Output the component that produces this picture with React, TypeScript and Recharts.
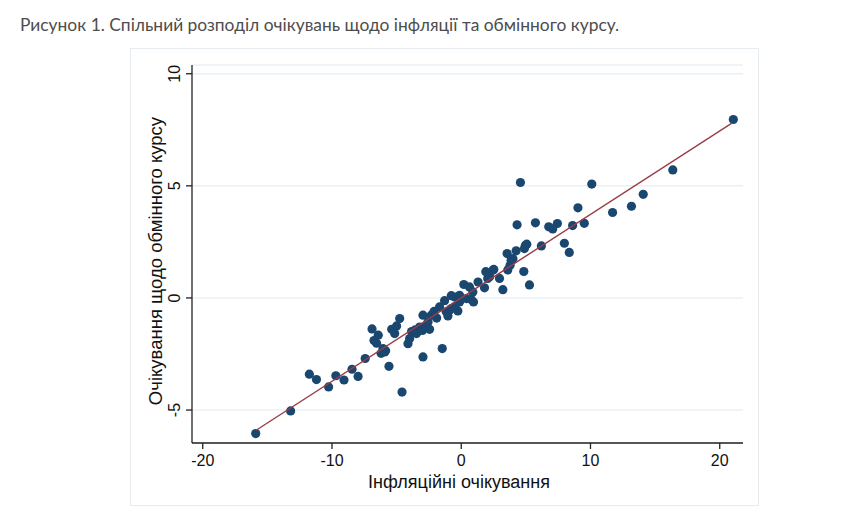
import { ScatterChart, Scatter, XAxis, YAxis, CartesianGrid } from "recharts";

// inflation expectations (x) and exchange-rate expectations (y)
const inflationExp = [
  -15.9, -13.2, -11.75, -11.2, -10.26, -9.7, -9.07, -8.45, -7.98, -7.43,
  -6.9, -6.75, -6.55, -6.42, -6.2, -6.05, -5.92, -5.85, -5.59, -5.38,
  -5.15, -5.0, -4.76, -4.58, -4.12, -3.99, -3.84, -3.55, -3.46, -3.22,
  -3.0, -2.96, -2.96, -2.7, -2.57, -2.45, -2.32, -2.1, -1.9, -1.68,
  -1.47, -1.29, -1.16, -1.03, -0.9, -0.77, -0.77, -0.52, -0.5, -0.26,
  -0.13, -0.13, 0.2, 0.4, 0.64, 0.77, 0.9, 0.95, 1.3, 1.8,
  1.9, 2.05, 2.2, 2.45, 2.52, 2.96, 3.22, 3.55, 3.6, 3.78,
  3.86, 4.0, 4.25, 4.32, 4.58, 4.84, 4.89, 4.97, 5.07, 5.28,
  5.74, 6.2, 6.77, 7.08, 7.44, 7.98, 8.36, 8.62, 9.03, 9.52,
  10.1, 11.71, 13.17, 14.08, 16.37, 21.05
];
const exchangeExp = [
  -6.05, -5.04, -3.4, -3.64, -3.97, -3.47, -3.66, -3.18, -3.5, -2.7,
  -1.38, -1.9, -2.02, -1.66, -2.47, -2.26, -2.41, -2.35, -3.05, -1.4,
  -1.59, -1.25, -0.92, -4.2, -2.04, -1.81, -1.5, -1.42, -1.59, -1.3,
  -1.45, -0.77, -2.63, -1.22, -1.07, -1.4, -0.77, -0.6, -0.9, -0.4,
  -2.26, -0.12, -0.62, -0.8, -0.55, 0.1, -0.47, -0.4, 0.04, -0.58,
  0.12, -0.18, 0.6, -0.03, 0.49, -0.07, 0.27, -0.18, 0.71, 0.45,
  1.17, 0.87, 0.94, 1.24, 1.27, 0.87, 0.37, 1.98, 1.25, 1.46,
  1.68, 1.75, 2.1, 3.26, 5.15, 1.18, 2.2, 2.35, 2.4, 0.58,
  3.35, 2.32, 3.17, 3.08, 3.32, 2.44, 2.03, 3.23, 4.02, 3.33,
  5.08, 3.81, 4.09, 4.62, 5.71, 7.96
];
// fitted line end points
const fitX = [-15.87, 20.97];
const fitY = [-5.9, 7.81];

const xTicks = [-20, -10, 0, 10, 20];
const yTicks = [-5, 0, 5, 10];

const points = inflationExp.map((x, i) => ({ x, y: exchangeExp[i] }));
const fitLine = fitX.map((x, i) => ({ x, y: fitY[i] }));

const axisFont = "'Liberation Sans', Arial, sans-serif";

const YTick = (props: any) => {
  const { x, y, payload } = props;
  return (
    <text
      x={x - 4}
      y={y}
      transform={`rotate(-90 ${x - 4} ${y})`}
      textAnchor="middle"
      fontSize={16}
      fontFamily={axisFont}
      fill="#111"
    >
      {payload.value}
    </text>
  );
};

const XTick = (props: any) => {
  const { x, y, payload } = props;
  return (
    <text x={x} y={y + 15} textAnchor="middle" fontSize={16} fontFamily={axisFont} fill="#111">
      {payload.value}
    </text>
  );
};

const Nothing = () => <g />;

export default function App() {
  return (
    <div style={{ position: "absolute", left: 0, top: 0, width: 843, height: 520, background: "#fff" }}>
      <div
        style={{
          position: "absolute",
          left: 20,
          top: 14,
          fontFamily: "Lato, sans-serif",
          fontSize: 17.4,
          color: "#4d4d4d",
          whiteSpace: "nowrap"
        }}
      >
        Рисунок 1. Спільний розподіл очікувань щодо інфляції та обмінного курсу.
      </div>
      <div
        style={{
          position: "absolute",
          left: 130,
          top: 48,
          width: 627,
          height: 456,
          border: "1px solid #e6ecef"
        }}
      />
      <div style={{ position: "absolute", left: 0, top: 0 }}>
        <ScatterChart width={843} height={520} margin={{ top: 65, right: 100, left: 132, bottom: 47 }}>
          <CartesianGrid vertical={false} stroke="#eaf0f3" strokeWidth={1.5} />
          <XAxis
            type="number"
            dataKey="x"
            domain={[-20.83, 21.8]}
            ticks={xTicks}
            allowDataOverflow
            height={30}
            tickSize={6}
            tick={<XTick />}
            stroke="#222"
            strokeWidth={1.3}
            label={{
              value: "Інфляційні очікування",
              position: "insideBottom",
              content: () => (
                <text x={459} y={488} textAnchor="middle" fontSize={18} fontFamily={axisFont} fill="#111">
                  Інфляційні очікування
                </text>
              )
            }}
          />
          <YAxis
            type="number"
            dataKey="y"
            domain={[-6.47, 10.39]}
            ticks={yTicks}
            allowDataOverflow
            width={60}
            tickSize={6}
            tick={<YTick />}
            stroke="#222"
            strokeWidth={1.3}
            label={{
              value: "Очікування щодо обмінного курсу",
              content: () => (
                <text
                  x={162}
                  y={261}
                  transform="rotate(-90 162 261)"
                  textAnchor="middle"
                  fontSize={18.5}
                  fontFamily={axisFont}
                  fill="#111"
                >
                  Очікування щодо обмінного курсу
                </text>
              )
            }}
          />
          <Scatter data={points} fill="#1a476f" isAnimationActive={false} shape={(p: any) => <circle cx={p.cx} cy={p.cy} r={4.6} fill="#1a476f" />} />
          <Scatter
            data={fitLine}
            line={{ stroke: "#9a3d46", strokeWidth: 1.4 }}
            lineType="joint"
            shape={Nothing}
            isAnimationActive={false}
          />
        </ScatterChart>
      </div>
    </div>
  );
}
